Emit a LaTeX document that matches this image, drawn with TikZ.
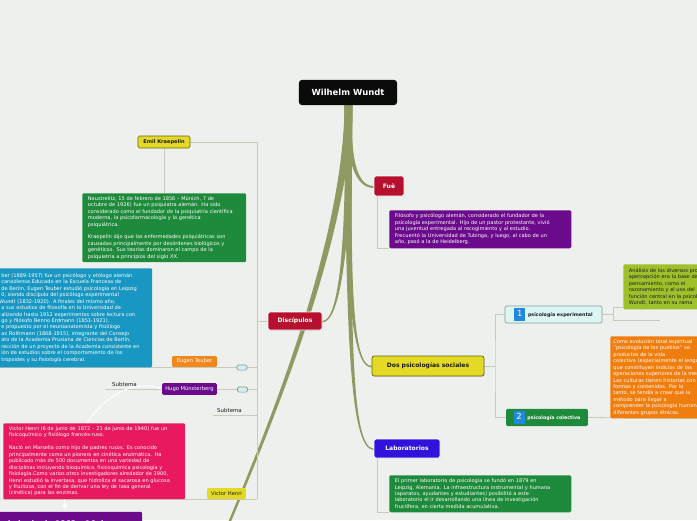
\documentclass[tikz,border=0pt]{standalone}
\usepackage{fontspec}
\setmainfont{DejaVu Sans}
\usepackage{xcolor}
\usetikzlibrary{arrows.meta, calc, shadows}
\definecolor{canvas}{HTML}{EEF0EE}
\definecolor{trunk}{HTML}{8E9A62}
\definecolor{linkgray}{HTML}{C7CBB9}
\definecolor{rootblack}{HTML}{0B0B0B}
\definecolor{topicred}{HTML}{B70F2E}
\definecolor{notepurple}{HTML}{6C0A8C}
\definecolor{topicyellow}{HTML}{E4D925}
\definecolor{yellowedge}{HTML}{6B6410}
\definecolor{notegreen}{HTML}{1E8A3B}
\definecolor{noteblue}{HTML}{1897C2}
\definecolor{topicorange}{HTML}{F2871C}
\definecolor{notepink}{HTML}{E8195F}
\definecolor{labblue}{HTML}{3111DC}
\definecolor{notelime}{HTML}{9EC12B}
\definecolor{noteorange}{HTML}{F07E0E}
\definecolor{expcyan}{HTML}{DCF6F4}
\definecolor{expedge}{HTML}{8A9C9C}
\definecolor{foldcyan}{HTML}{D2EEEE}
\definecolor{badge}{HTML}{2288DD}
\definecolor{darktext}{HTML}{1C1C1C}
\pgfdeclarelayer{paper}
\pgfdeclarelayer{wires}
\pgfsetlayers{paper,wires,main}
\newcommand{\numbadge}[1]{{\setlength{\fboxsep}{1.4pt}\colorbox{badge}{\makebox[5pt]{\rule[-1.4pt]{0pt}{6.2pt}\textcolor{white}{\mdseries\fontsize{6}{6}\selectfont #1}}}}}
\tikzset{
  rootbox/.style={fill=rootblack, rounded corners=2pt, text=white, inner sep=0pt,
    minimum width=69.7pt, minimum height=17.8pt, font=\bfseries\fontsize{6}{7}\selectfont},
  topic/.style={rounded corners=1.5pt, inner sep=0pt, text=white, draw=white, line width=0.5pt,
    font=\bfseries\fontsize{4.3}{5}\selectfont,
    drop shadow={opacity=0.2, shadow xshift=0.4pt, shadow yshift=-0.6pt}},
  sub/.style={rounded corners=1pt, inner sep=0pt, text=white, line width=0.4pt,
    font=\fontsize{3.7}{4.4}\selectfont},
  note/.style={anchor=north west, rounded corners=1pt, inner xsep=4pt, inner ysep=1pt,
    text=white, align=left, font=\fontsize{3.6}{4.6}\selectfont},
  subtema/.style={text=darktext, inner sep=0pt, font=\fontsize{3.9}{4.5}\selectfont},
  fold/.style={fill=foldcyan, draw=expedge, line width=0.4pt, rounded corners=1pt,
    inner sep=0pt, minimum width=7.1pt, minimum height=3.6pt},
  link/.style={draw=linkgray, line width=0.6pt},
  relation/.style={draw=white, line width=0.7pt, -{Stealth[length=3pt]}}
}
\begin{document}
\begin{tikzpicture}[x=0.025cm, y=-0.025cm]
\useasboundingbox (0,0) rectangle (697,520);
\begin{pgfonlayer}{paper}
\fill[canvas] (0,0) rectangle (697,520);
\end{pgfonlayer}
\clip (0,0) rectangle (697,520);

% central topic and main branches
\node[rootbox] (root) at (348,92.5) {Wilhelm Wundt};
\node[topic, fill=topicred, minimum width=21.3pt, minimum height=14.2pt] (fue) at (389,186) {Fuè};
\node[topic, fill=topicred, minimum width=38.4pt, minimum height=12.8pt] (disc) at (295,321) {Discípulos};
\node[topic, fill=topicyellow, text=darktext, draw=yellowedge, minimum width=79.6pt, minimum height=14.2pt] (dos) at (428,366) {Dos psicologías sociales};
\node[topic, fill=labblue, minimum width=46.9pt, minimum height=13.5pt] (lab) at (407,448.5) {Laboratorios};

% subtopics
\node[sub, fill=topicyellow, text=darktext, draw=yellowedge, font=\bfseries\fontsize{3.6}{4.4}\selectfont,
  minimum width=37pt, minimum height=8.5pt] (emil) at (164,142) {Emil Kraepelin};
\node[sub, fill=topicorange, minimum width=32pt, minimum height=7.8pt] (eugen) at (194.5,361.5) {Eugen Teuber};
\node[sub, fill=notepurple, minimum width=39pt, minimum height=8.5pt] (hugo) at (189.5,389) {Hugo Münsterberg};
\node[sub, fill=topicyellow, text=darktext, minimum width=27.7pt, minimum height=7.8pt] (victor) at (226.5,493.5) {Victor Henri};
\node[sub, fill=expcyan, draw=expedge, text=darktext, font=\bfseries\fontsize{3.4}{4}\selectfont,
  minimum width=69pt, minimum height=12.1pt] (exp) at (553.5,314.5) {\numbadge{1}\hspace{2pt}psicología experimental};
\node[sub, fill=notegreen, font=\bfseries\fontsize{3.4}{4}\selectfont,
  minimum width=58.3pt, minimum height=12.1pt] (col) at (547,417.5) {\numbadge{2}\hspace{2pt}psicología colectiva};
\node[subtema] (sub1) at (124.5,384.5) {Subtema};
\node[subtema] (sub2) at (229.5,410.5) {Subtema};
\node[fold] (fold1) at (242,367.5) {};
\node[fold] (fold2) at (242.5,389.5) {};

% notes
\node[note, fill=notegreen, text width=108.6pt, minimum height=49pt] (emilnote) at (82,193) {%
Neustrelitz, 15 de febrero de 1856 – Múnich, 7 de\\
octubre de 1926) fue un psiquiatra alemán. Ha sido\\
considerado como el fundador de la psiquiatría científica\\
moderna, la psicofarmacología y la genética\\
psiquiátrica.\\[4.6pt]
Kraepelin dijo que las enfermedades psiquiátricas son\\
causadas principalmente por desórdenes biológicos y\\
genéticos. Sus teorías dominaron el campo de la\\
psiquiatría a principios del siglo XX.};
\node[note, fill=notepurple, text width=121.4pt, minimum height=27pt] (fuenote) at (389,210) {%
Filósofo y psicólogo alemán, considerado el fundador de la\\
psicología experimental. Hijo de un pastor protestante, vivió\\
una juventud entregada al recogimiento y al estudio.\\
Frecuentó la Universidad de Tubinga, y luego, al cabo de un\\
año, pasó a la de Heidelberg.};
\node[note, fill=noteblue, text width=103pt, inner xsep=4.3pt, minimum height=70.4pt] (eugennote) at (-5,268) {%
ber (1889-1957) fue un psicólogo y etólogo alemán\\
canadiense.Educado en la Escuela Francesa de\\
de Berlín, Eugen Teuber estudió psicología en Leipzig\\
0, siendo discípulo del psicólogo experimental\\
\hspace*{-1.5pt}Wundt (1832-1920). A finales del mismo año,\\
a sus estudios de filosofía en la Universidad de\\
alizando hasta 1912 experimentos sobre lectura con\\
go y filósofo Benno Erdmann (1851-1921).\\
e propuesto por el neuroanatomista y fisiólogo\\
ax Rothmann (1868-1915), integrante del Consejo\\
ato de la Academia Prusiana de Ciencias de Berlín,\\
rección de un proyecto de la Academia consistente en\\
ión de estudios sobre el comportamiento de los\\
tropoides y su fisiología cerebral.};
\node[note, fill=notepink, text width=121.4pt, minimum height=54pt] (victornote) at (3,423) {%
Victor Henri (6 de junio de 1872 – 21 de junio de 1940) fue un\\
fisicoquímico y fisiólogo francés-ruso.\\[4.6pt]
Nació en Marsella como hijo de padres rusos. Es conocido\\
principalmente como un pionero en cinética enzimática. Ha\\
publicado más de 500 documentos en una variedad de\\
disciplinas incluyendo bioquímica, fisicoquímica psicología y\\
fisiología.Como varios otros investigadores alrededor de 1900,\\
Henri estudió la invertasa, que hidroliza el sacarosa en glucosa\\
y fructosa, con el fin de derivar una ley de tasa general\\
(cinética) para las enzimas.};
\node[note, fill=notepurple, text width=90.5pt, inner xsep=7pt, inner ysep=6.6pt,
  font=\bfseries\fontsize{5.4}{6.8}\selectfont] (hugonote) at (-5,511.5) {%
de junio de 1863 – 16 de\\
diciembre de 1916)};
\node[note, fill=notegreen, text width=121.4pt, minimum height=26.3pt] (labnote) at (389,475) {%
El primer laboratorio de psicología se fundó en 1879 en\\
Leipzig, Alemania. La infraestructura instrumental y humana\\
(aparatos, ayudantes y estudiantes) posibilitó a este\\
laboratorio el ir desarrollando una línea de investigación\\
fructífera, en cierta medida acumulativa.};
\node[note, fill=notelime, text=darktext, text width=77pt, minimum height=32pt] (expnote) at (623,264) {%
Análisis de los diversos procesos\\
apercepción era la base del\\
pensamiento, como el\\
razonamiento y el uso del\\
función central en la psicología\\
Wundt, tanto en su rama};
\node[note, fill=noteorange, text width=74pt, inner xsep=2.2pt, minimum height=58.3pt] (colnote) at (610,336) {%
Como evolución total espiritual\\
"psicología de los pueblos" se\\
productos de la vida\\
colectiva (especialmente el lenguaje\\
que constituyen indicios de las\\
operaciones superiores de la mente\\
Las culturas tienen historias con\\
formas y contenidos. Por lo\\
tanto, se tendía a crear que la\\
método para llegar a\\
comprender la psicología humana\\
diferentes grupos étnicos.};

\begin{pgfonlayer}{wires}
% trunk
\fill[trunk] (352.5,104) .. controls (350,155) and (356,186) .. (fue.west) -- ++(0,2) .. controls (353,188) and (346,155) .. (344.5,104) -- cycle;
\fill[trunk] (352.5,104) .. controls (350,280) and (352,366) .. (dos.west) -- ++(0,1.5) .. controls (350,367) and (346,280) .. (344.5,104) -- cycle;
\fill[trunk] (352.5,104) .. controls (350,340) and (352,448) .. (lab.west) -- ++(0,1.5) .. controls (350,449) and (346,340) .. (344.5,104) -- cycle;
\fill[trunk] (344.5,104) .. controls (347,250) and (338,321) .. (disc.east) -- ++(0,1.5) .. controls (340,322) and (351,250) .. (352.5,104) -- cycle;
\fill[trunk] (344.5,104) .. controls (344,230) and (280,400) .. (224,532) -- ++(2.5,0) .. controls (283,400) and (350,230) .. (352.5,104) -- cycle;
% left side
\coordinate (spinetop) at (257,142);
\coordinate (spinebot) at (257,499);
\coordinate (eugenleft) at (0,367);
\coordinate (hugoleft) at (105,389);
\coordinate (sub2left) at (213,415);
\coordinate (victorleft) at (3,499);
\coordinate (reltail) at (65,506);
\draw[link] (emil.east) -- (spinetop) -- (spinebot);
\draw[link] (disc.west) -- (disc.west -| spinetop);
\draw[link] (eugenleft) -- (eugenleft -| spinetop);
\draw[link] (hugoleft) -- (hugoleft -| spinetop);
\draw[link] (sub2left) -- (sub2left -| spinetop);
\draw[link] (victorleft) -- (spinebot);
\draw[link] (emil.south) -- (emil.south |- emilnote.north);
\draw[relation] (reltail) .. controls (58,440) and (112,372) .. (hugo.west);
\fill[white] (reltail) circle (1.5pt);
% right side
\draw[link] ($(fue.south west)+(4,0)$) |- (fuenote.south west);
\draw[link] ($(lab.south west)+(4,0)$) |- (labnote.south west);
\coordinate (dosfork) at (495,366);
\coordinate (expfork) at (613,314.5);
\coordinate (expup) at (623,307);
\coordinate (expend) at (660,320);
\coordinate (colend) at (697,418.5);
\draw[link] (dos.east) -- (dosfork);
\draw[link] (exp.west) -| (dosfork) |- (col.west);
\draw[link] (exp.east) -- (expfork);
\draw[link] (expup) -| (expend -| expfork) -- (expend);
\draw[link] (col.east) -- (colend);
\end{pgfonlayer}
\end{tikzpicture}
\end{document}
